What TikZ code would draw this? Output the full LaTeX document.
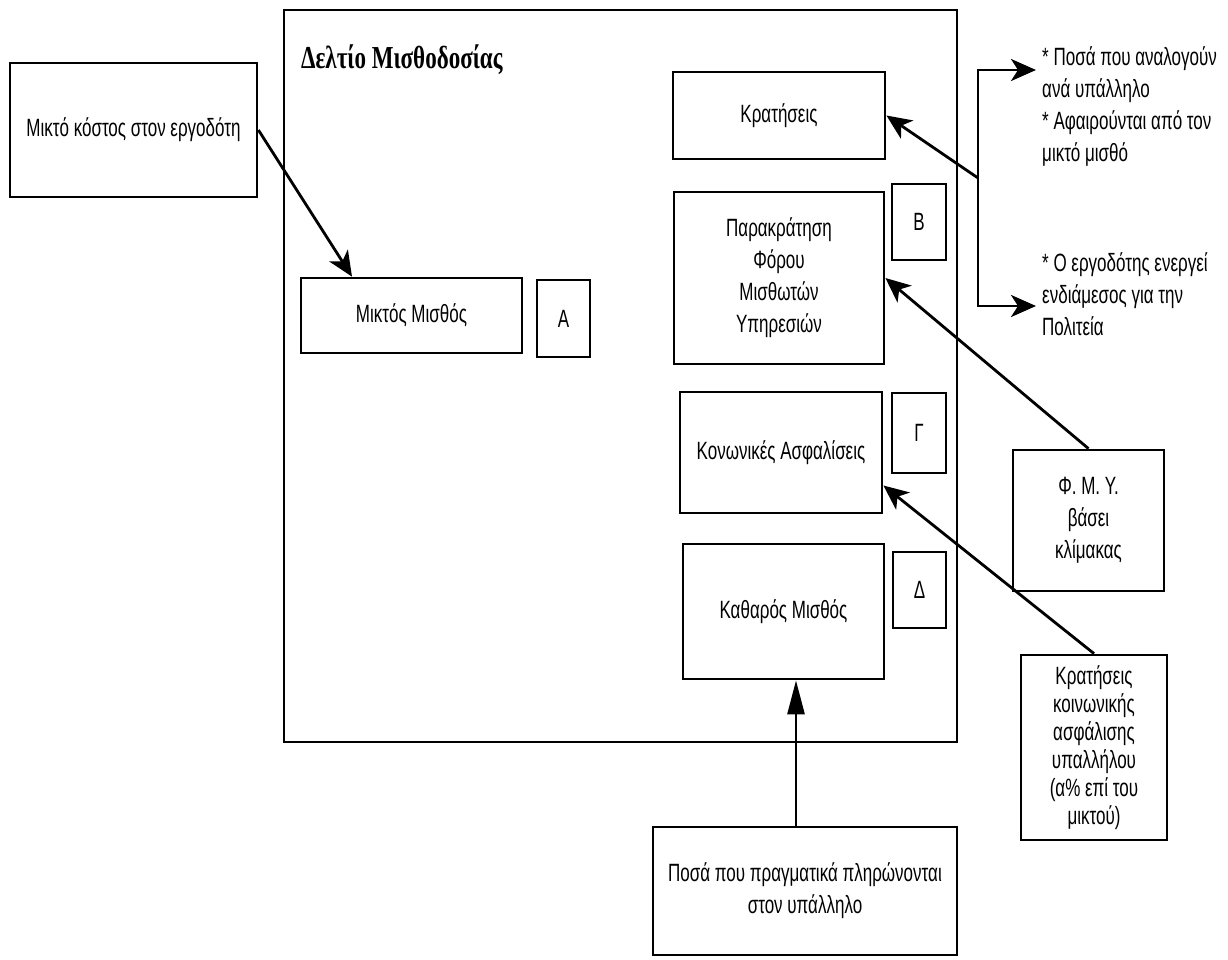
\documentclass[tikz,border=0pt]{standalone}
\usepackage{fontspec}
\setmainfont{Liberation Sans}[FakeStretch=0.68]
\newfontfamily\titlefont{Liberation Serif}[FakeStretch=0.72]
\usetikzlibrary{arrows.meta}

\begin{document}
\begin{tikzpicture}[x=1pt,y=-1pt,
  every node/.style={font=\fontsize{25}{32}\selectfont},
  box/.style={draw, line width=2.8pt, align=center, inner sep=0pt},
  note/.style={align=left, inner sep=0pt, anchor=west},
  tip/.style={Stealth[length=25pt,width=22pt,inset=7pt]},
  arr/.style={line width=2.8pt, -{Stealth[length=25pt,width=22pt,inset=7pt]}},
  uparr/.style={line width=2.8pt, -{Triangle[length=34pt,width=17pt]}}
]
\useasboundingbox (0,0) rectangle (1228,960);

% payroll sheet frame and its title
\node[box, minimum width=673pt, minimum height=732pt] (frame) at (620.5,376) {};
\node[anchor=base west, inner sep=0pt,
      font=\titlefont\bfseries\fontsize{32}{32}\selectfont] (title) at (301,69) {Δελτίο Μισθοδοσίας};

% boxes inside the sheet
\node[box, minimum width=221pt, minimum height=75pt]  (mikto) at (411.5,315.5) {Μικτός Μισθός};
\node[box, minimum width=53pt,  minimum height=77pt]  (la)    at (563.5,318.5) {Α};
\node[box, minimum width=212pt, minimum height=87pt]  (krat)  at (779,115.5)   {Κρατήσεις};
\node[box, minimum width=210pt, minimum height=172pt] (parak) at (779,278)     {Παρακράτηση\\Φόρου\\Μισθωτών\\Υπηρεσιών};
\node[box, minimum width=54pt,  minimum height=76pt]  (lb)    at (919,222)     {Β};
\node[box, minimum width=202pt, minimum height=121pt] (koin)  at (781,452.5)   {Κονωνικές Ασφαλίσεις};
\node[box, minimum width=54pt,  minimum height=80pt]  (lg)    at (919,433)     {Γ};
\node[box, minimum width=201pt, minimum height=135pt] (kath)  at (783.5,611.5) {Καθαρός Μισθός};
\node[box, minimum width=53pt,  minimum height=76pt]  (ld)    at (919.5,590)   {Δ};

% boxes outside the sheet
\node[box, minimum width=247pt, minimum height=134pt] (cost)  at (133.5,130)   {Μικτό κόστος στον εργοδότη};
\node[box, minimum width=151pt, minimum height=141pt] (fmy)   at (1088.5,520.5) {Φ. Μ. Υ.\\βάσει\\κλίμακας};
\node[box, minimum width=146pt, minimum height=185pt,
      font=\fontsize{25}{28}\selectfont]              (krat2) at (1094,747.5)  {Κρατήσεις\\κοινωνικής\\ασφάλισης\\υπαλλήλου\\(α\% επί του\\μικτού)};
\node[box, minimum width=304pt, minimum height=128pt] (posa)  at (805,891)     {Ποσά που πραγματικά πληρώνονται\\στον υπάλληλο};

% notes on the right
\node[note] (note1) at (1042,106) {* Ποσά που αναλογούν\\ανά υπάλληλο\\* Αφαιρούνται από τον\\μικτό μισθό};
\node[note] (note2) at (1042,294) {* Ο εργοδότης ενεργεί\\ενδιάμεσος για την\\Πολιτεία};

% bracket pointing to the notes
\coordinate (brtop) at (978,70);
\coordinate (brbot) at (978,306);
\coordinate (brmid) at (978,178);
\coordinate (n1tip) at ([xshift=-6pt]note1.west);
\coordinate (n2tip) at ([xshift=-6pt]note2.west);
\draw[line width=2.8pt, {Stealth[length=25pt,width=22pt,inset=7pt]}-{Stealth[length=25pt,width=22pt,inset=7pt]}]
  (brtop -| n1tip) -- (brtop) -- (brbot) -- (brbot -| n2tip);

% connectors
\draw[arr] (cost.east) -- ([xshift=-59.5pt]mikto.north);
\draw[arr] (brmid) -- (krat.east);
\draw[arr] (fmy.north) -- (parak.east);
\draw[arr] (krat2.north) -- ([yshift=-33pt]koin.east);
\coordinate (pfoot) at ([xshift=-9pt]posa.north);
\draw[uparr] (pfoot) -- (pfoot |- kath.south);
\end{tikzpicture}
\end{document}
